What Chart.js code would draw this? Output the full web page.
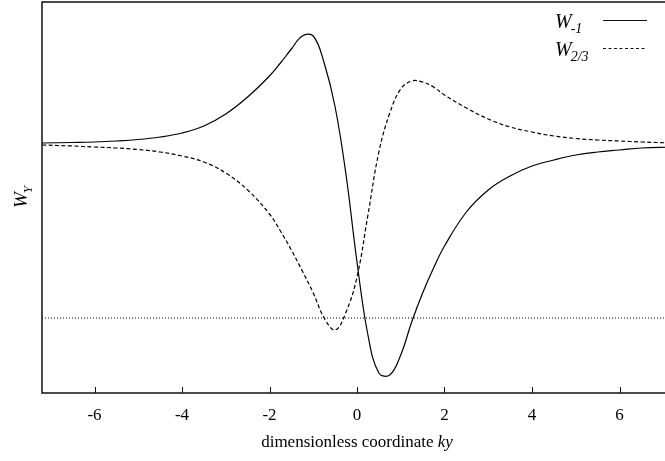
<!DOCTYPE html>
<html>
<head>
<meta charset="utf-8">
<script src="https://cdn.jsdelivr.net/npm/chart.js@4/dist/chart.umd.min.js"></script>
<style>
  html, body { margin: 0; padding: 0; background: #fff; overflow: hidden; }
  #wrap { width: 672px; height: 461px; }
</style>
</head>
<body>
<div id="wrap"><canvas id="chart" width="672" height="461"></canvas></div>
<script>
// sample positions (ky) and curve values
const kyValues = [-7.2, -6.5, -6, -5.5, -5, -4.5, -4, -3.5, -3, -2.5, -2, -1.75, -1.5, -1.25, -1, -0.75, -0.5, -0.25, 0,
    0.25, 0.5, 0.75, 1, 1.25, 1.5, 1.75, 2, 2.5, 3, 3.5, 4, 4.5, 5, 5.5, 6, 6.5, 7.2];

const wMinusOne = [0.01, 0.015, 0.02, 0.03, 0.045, 0.07, 0.11, 0.18, 0.30, 0.47, 0.68, 0.81, 0.95, 1.08, 1.08, 0.81, 0.37, -0.31, -1.18,
    -1.91, -2.29, -2.31, -2.11, -1.78, -1.49, -1.24, -1.02, -0.68, -0.46, -0.32, -0.22, -0.16, -0.11, -0.08, -0.06, -0.04, -0.03];

const wTwoThirds = [-0.01, -0.02, -0.03, -0.04, -0.055, -0.08, -0.12, -0.18, -0.29, -0.46, -0.70, -0.87, -1.06, -1.27, -1.49, -1.74, -1.86, -1.68, -1.33,
    -0.71, -0.08, 0.31, 0.55, 0.63, 0.62, 0.57, 0.49, 0.36, 0.25, 0.17, 0.12, 0.08, 0.055, 0.04, 0.03, 0.02, 0.01];

const refLevel = -1.74;
const xTicks = [-6, -4, -2, 0, 2, 4, 6];
const xRange = [-7.2, 7.2];
const yRange = [-2.49, 1.42];

const toPoints = (ys) => kyValues.map((x, i) => ({ x: x, y: ys[i] }));

const SERIF = '"Liberation Serif", "DejaVu Serif", serif';

// frame, inward ticks, axis titles and legend (with subscripts)
const decorations = {
    id: 'decorations',
    afterDraw: (chart) => {
        const { ctx, chartArea, scales } = chart;
        const { left, right, top, bottom } = chartArea;

        ctx.save();
        ctx.strokeStyle = '#111';
        ctx.lineWidth = 1.5;
        ctx.strokeRect(left, top, right - left, bottom - top);

        ctx.lineWidth = 1;
        xTicks.forEach((v) => {
            const px = Math.round(scales.x.getPixelForValue(v)) + 0.5;
            ctx.beginPath();
            ctx.moveTo(px, bottom);
            ctx.lineTo(px, bottom - 6);
            ctx.stroke();
        });

        ctx.fillStyle = '#000';
        ctx.textBaseline = 'alphabetic';

        // x title
        const part1 = 'dimensionless coordinate ';
        const part2 = 'ky';
        ctx.font = '17px ' + SERIF;
        const w1 = ctx.measureText(part1).width;
        ctx.font = 'italic 17px ' + SERIF;
        const w2 = ctx.measureText(part2).width;
        const cx = scales.x.getPixelForValue(0);
        let tx = cx - (w1 + w2) / 2;
        ctx.font = '17px ' + SERIF;
        ctx.fillText(part1, tx, 447);
        ctx.font = 'italic 17px ' + SERIF;
        ctx.fillText(part2, tx + w1, 447);

        // y title
        ctx.save();
        ctx.translate(27, 208);
        ctx.rotate(-Math.PI / 2);
        ctx.font = 'italic 19px ' + SERIF;
        ctx.fillText('W', 0, 0);
        const wW = ctx.measureText('W').width;
        ctx.font = 'italic 13px ' + SERIF;
        ctx.fillText('Y', wW - 1, 5);
        ctx.restore();

        // legend
        const rows = [
            { sub: '-1', y: 28, dash: [] },
            { sub: '2/3', y: 56, dash: [3, 2.5] },
        ];
        rows.forEach((r) => {
            ctx.font = 'italic 20px ' + SERIF;
            ctx.fillText('W', 555, r.y);
            const ww = ctx.measureText('W').width;
            ctx.font = 'italic 14px ' + SERIF;
            ctx.fillText(r.sub, 555 + ww - 1, r.y + 5);
            ctx.beginPath();
            ctx.setLineDash(r.dash);
            ctx.lineWidth = 1.2;
            ctx.moveTo(603, r.y - 7.5);
            ctx.lineTo(647, r.y - 7.5);
            ctx.stroke();
        });
        ctx.restore();
    },
};

new Chart(document.getElementById('chart'), {
    type: 'line',
    data: {
        datasets: [
            {
                label: 'W-1',
                data: toPoints(wMinusOne),
                borderColor: '#000',
                borderWidth: 1.2,
                pointRadius: 0,
                tension: 0.4,
            },
            {
                label: 'W2/3',
                data: toPoints(wTwoThirds),
                borderColor: '#000',
                borderWidth: 1.2,
                borderDash: [4, 2.5],
                pointRadius: 0,
                tension: 0.4,
            },
            {
                label: 'ref',
                data: [{ x: xRange[0], y: refLevel }, { x: xRange[1], y: refLevel }],
                borderColor: '#000',
                borderWidth: 1,
                borderDash: [1, 2],
                pointRadius: 0,
            },
        ],
    },
    options: {
        responsive: false,
        animation: false,
        layout: { padding: { top: 2, right: 0, left: 0, bottom: 0 } },
        plugins: {
            legend: { display: false },
            tooltip: { enabled: false },
        },
        scales: {
            x: {
                type: 'linear',
                min: xRange[0],
                max: xRange[1],
                grid: { display: false, drawTicks: false },
                border: { display: false },
                afterBuildTicks: (scale) => {
                    scale.ticks = xTicks.map((v) => ({ value: v }));
                },
                afterFit: (scale) => {
                    scale.height = 68;
                },
                ticks: {
                    color: '#000',
                    padding: 12,
                    maxRotation: 0,
                    autoSkip: false,
                    font: { family: SERIF, size: 17 },
                },
            },
            y: {
                type: 'linear',
                min: yRange[0],
                max: yRange[1],
                grid: { display: false },
                border: { display: false },
                ticks: { display: false },
                afterFit: (scale) => {
                    scale.width = 42;
                },
            },
        },
    },
    plugins: [decorations],
});
</script>
</body>
</html>
